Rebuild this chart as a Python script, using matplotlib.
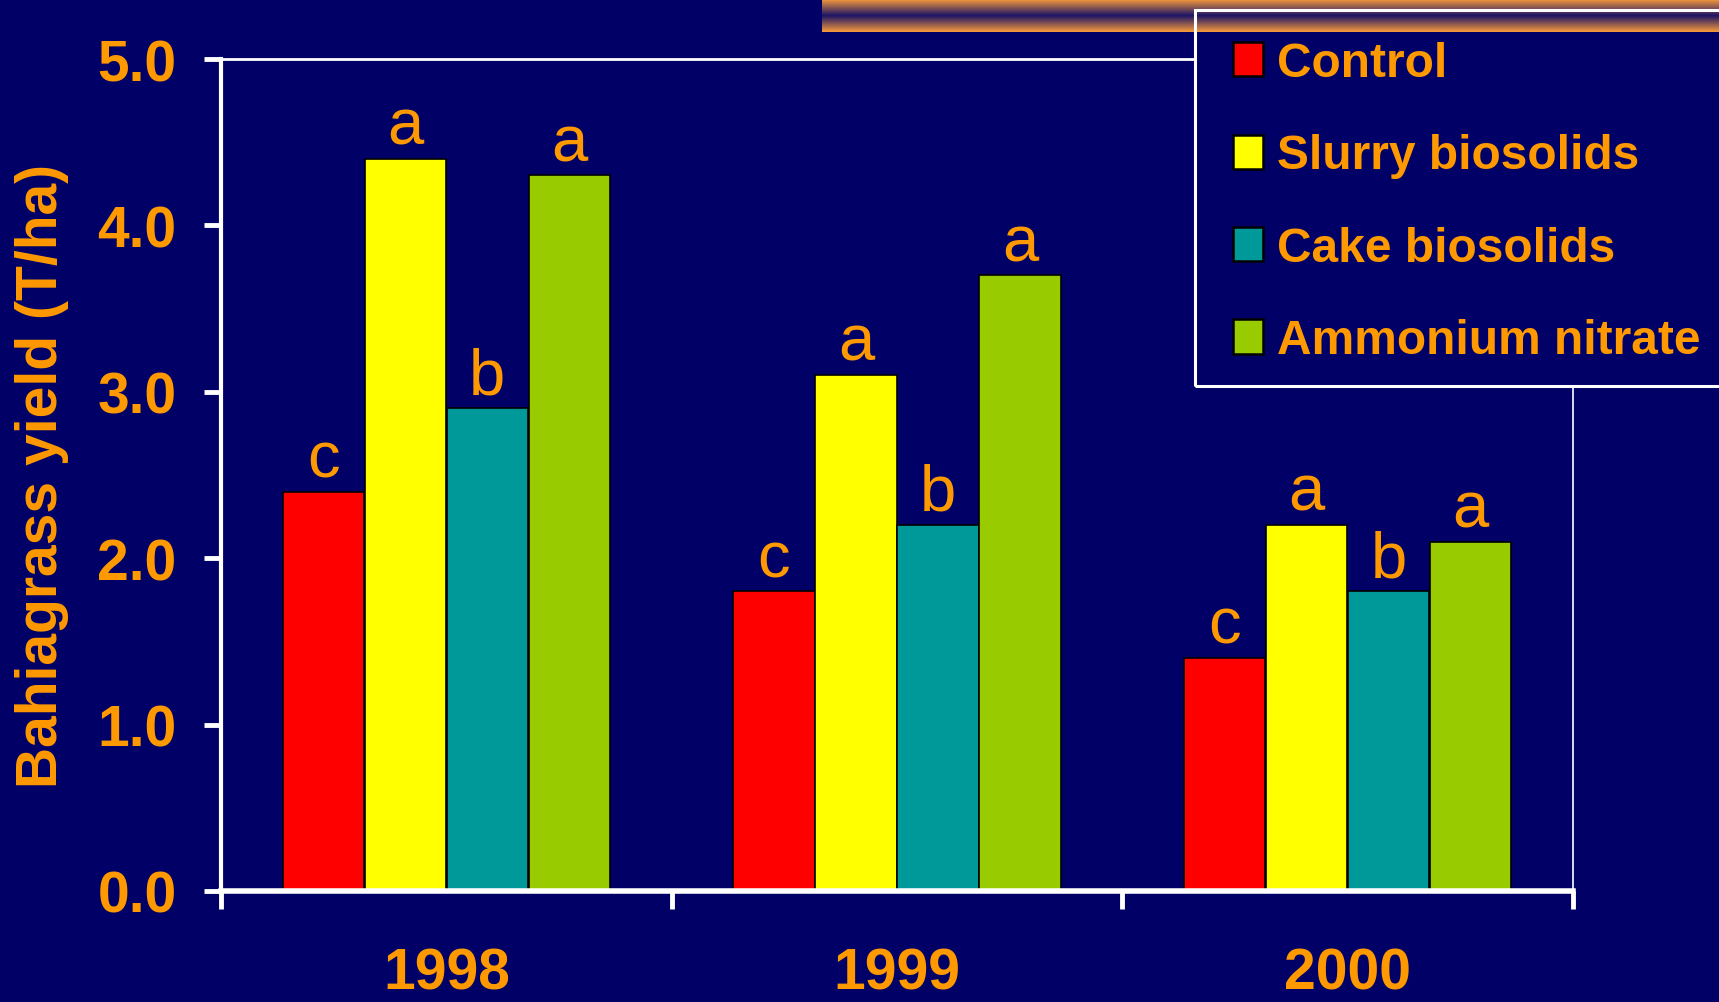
import numpy as np
import matplotlib.pyplot as plt
from matplotlib.patches import Rectangle
from matplotlib.colors import LinearSegmentedColormap

plt.rcParams['font.family'] = ['Liberation Sans', 'DejaVu Sans']

# data
years = ['1998', '1999', '2000']
treatments = ['Control', 'Slurry biosolids', 'Cake biosolids', 'Ammonium nitrate']
control = [2.4, 1.8, 1.4]
slurry = [4.4, 3.1, 2.2]
cake = [2.9, 2.2, 1.8]
ammonium = [4.3, 3.7, 2.1]
control_letters = ['c', 'c', 'c']
slurry_letters = ['a', 'a', 'a']
cake_letters = ['b', 'b', 'b']
ammonium_letters = ['a', 'a', 'a']
yticks = [0.0, 1.0, 2.0, 3.0, 4.0, 5.0]

NAVY = '#000066'
ORANGE = '#FF9900'
colors = ['#FF0000', '#FFFF00', '#009999', '#99CC00']

W, H = 1719, 1003
fig = plt.figure(figsize=(W / 100, H / 100), dpi=100, facecolor=NAVY)
ax = fig.add_axes([221 / W, 1 - 892 / H, (1573 - 221) / W, (892 - 60) / H])
ax.set_facecolor(NAVY)

series = [control, slurry, cake, ammonium]
letters = [control_letters, slurry_letters, cake_letters, ammonium_letters]
x = np.arange(len(years))
handles = []
for i, (vals, lts, col, name) in enumerate(zip(series, letters, colors, treatments)):
    bars = ax.bar(x + (i - 1.5) * 0.182, vals, 0.18, color=col,
                  edgecolor='black', linewidth=1.2, label=name)
    handles.append(bars)
    for rect, lt in zip(bars, lts):
        ax.annotate(lt, (rect.get_x() + rect.get_width() / 2, rect.get_height()),
                    xytext=(0, 11), textcoords='offset points', ha='center',
                    va='baseline', fontsize=47, color=ORANGE)

ax.set_xlim(-0.5, 2.5)
ax.set_ylim(0, 5)
ax.set_yticks(yticks)
ax.set_yticklabels([f'{v:.1f}' for v in yticks])
ax.set_xticks(x)
ax.set_xticklabels(years)
ax.set_xticks([-0.5, 0.5, 1.5, 2.5], minor=True)
ax.tick_params(axis='x', which='major', length=0, pad=40, labelsize=41, labelcolor=ORANGE)
ax.tick_params(axis='x', which='minor', length=13, width=3.5, color='white', direction='out')
ax.tick_params(axis='y', length=12, width=3.5, color='white', pad=20, labelsize=41,
               labelcolor=ORANGE)
for lbl in ax.get_xticklabels() + ax.get_yticklabels():
    lbl.set_fontweight('bold')

for side, lw in [('left', 3), ('bottom', 4), ('top', 2), ('right', 1.2)]:
    ax.spines[side].set_color('white')
    ax.spines[side].set_linewidth(lw)

ax.set_ylabel('Bahiagrass yield (T/ha)', fontsize=41, fontweight='bold', color=ORANGE,
              va='center')
ax.yaxis.set_label_coords((42 - 221) / 1352, 0.5)

# legend box (runs off the right edge)
box = [1195 / W, 1 - 387 / H, (W + 20 - 1195) / W, (387 - 11) / H]
fig.add_artist(Rectangle(box[:2], box[2], box[3], transform=fig.transFigure,
                         facecolor=NAVY, edgecolor='none', zorder=1))
fig.add_artist(Rectangle(box[:2], box[2], box[3], transform=fig.transFigure,
                         fill=False, edgecolor='white', linewidth=2.2, zorder=3))

# orange/navy stripe at the top
gax = fig.add_axes([822 / W, 1 - 33 / H, (W - 822) / W, 33 / H])
gax.set_zorder(2)
cmap = LinearSegmentedColormap.from_list('stripe', ['#F79A3A', '#1C1466', '#F79A3A'])
gax.imshow(np.linspace(0, 1, 100).reshape(-1, 1), aspect='auto', cmap=cmap)
gax.axis('off')

leg = fig.legend(handles, treatments, loc='upper left', bbox_to_anchor=(1233 / W, 1 - 42 / H),
                 frameon=False, borderpad=0, borderaxespad=0, handlelength=0.62,
                 handleheight=0.72, handletextpad=0.3, labelspacing=0.99,
                 prop={'size': 34.5, 'weight': 'bold'}, labelcolor=ORANGE)
leg.set_zorder(5)
for p in leg.get_patches():
    p.set_linewidth(1.8)

plt.savefig('out.png', dpi=100, facecolor=NAVY)
